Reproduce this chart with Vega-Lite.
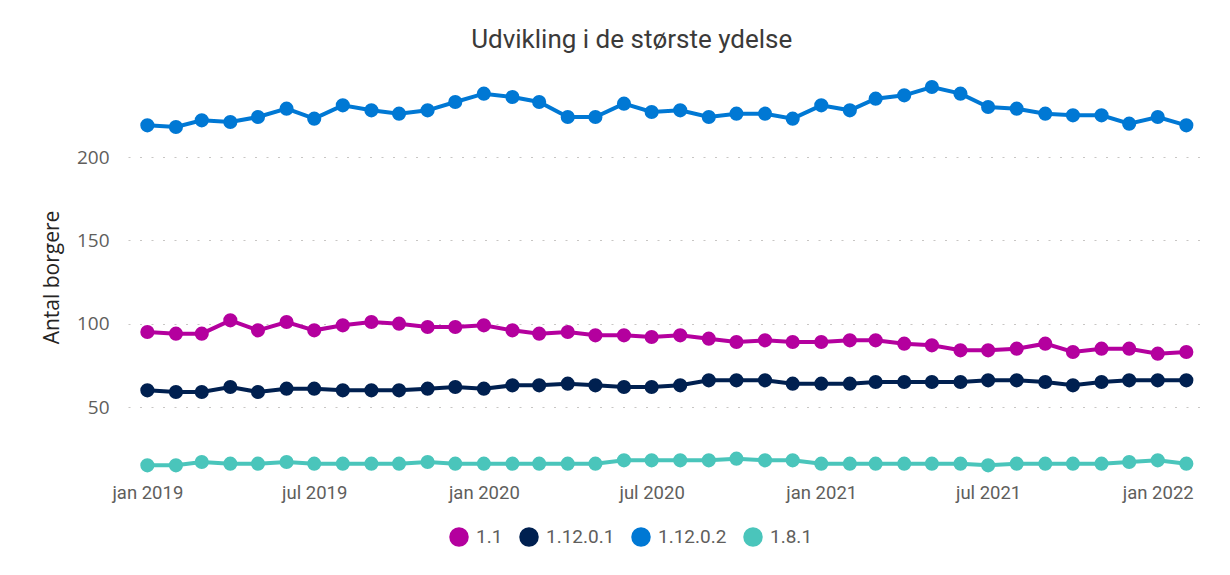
{
  "$schema": "https://vega.github.io/schema/vega-lite/v6.json",
  "width": 1074,
  "height": 390,
  "autosize": {"type": "pad"},
  "padding": {"left": 41, "right": 27, "top": 26, "bottom": 29},
  "background": "white",
  "title": {
    "text": "Udvikling i de største ydelse",
    "fontSize": 26,
    "font": "Roboto",
    "fontWeight": "normal",
    "color": "#3B3A39",
    "anchor": "middle",
    "frame": "bounds",
    "dx": 10,
    "offset": 26
  },
  "config": {
    "view": {"stroke": null},
    "axis": {"domain": false, "ticks": false, "tickSize": 0}
  },
  "data": {
    "values": [
      {"d":"2019-01-01","s":"1.1","v":95},{"d":"2019-02-01","s":"1.1","v":94},{"d":"2019-03-01","s":"1.1","v":94},{"d":"2019-04-01","s":"1.1","v":102},{"d":"2019-05-01","s":"1.1","v":96},{"d":"2019-06-01","s":"1.1","v":101},{"d":"2019-07-01","s":"1.1","v":96},{"d":"2019-08-01","s":"1.1","v":99},{"d":"2019-09-01","s":"1.1","v":101},{"d":"2019-10-01","s":"1.1","v":100},{"d":"2019-11-01","s":"1.1","v":98},{"d":"2019-12-01","s":"1.1","v":98},
      {"d":"2020-01-01","s":"1.1","v":99},{"d":"2020-02-01","s":"1.1","v":96},{"d":"2020-03-01","s":"1.1","v":94},{"d":"2020-04-01","s":"1.1","v":95},{"d":"2020-05-01","s":"1.1","v":93},{"d":"2020-06-01","s":"1.1","v":93},{"d":"2020-07-01","s":"1.1","v":92},{"d":"2020-08-01","s":"1.1","v":93},{"d":"2020-09-01","s":"1.1","v":91},{"d":"2020-10-01","s":"1.1","v":89},{"d":"2020-11-01","s":"1.1","v":90},{"d":"2020-12-01","s":"1.1","v":89},
      {"d":"2021-01-01","s":"1.1","v":89},{"d":"2021-02-01","s":"1.1","v":90},{"d":"2021-03-01","s":"1.1","v":90},{"d":"2021-04-01","s":"1.1","v":88},{"d":"2021-05-01","s":"1.1","v":87},{"d":"2021-06-01","s":"1.1","v":84},{"d":"2021-07-01","s":"1.1","v":84},{"d":"2021-08-01","s":"1.1","v":85},{"d":"2021-09-01","s":"1.1","v":88},{"d":"2021-10-01","s":"1.1","v":83},{"d":"2021-11-01","s":"1.1","v":85},{"d":"2021-12-01","s":"1.1","v":85},
      {"d":"2022-01-01","s":"1.1","v":82},{"d":"2022-02-01","s":"1.1","v":83},

      {"d":"2019-01-01","s":"1.12.0.1","v":60},{"d":"2019-02-01","s":"1.12.0.1","v":59},{"d":"2019-03-01","s":"1.12.0.1","v":59},{"d":"2019-04-01","s":"1.12.0.1","v":62},{"d":"2019-05-01","s":"1.12.0.1","v":59},{"d":"2019-06-01","s":"1.12.0.1","v":61},{"d":"2019-07-01","s":"1.12.0.1","v":61},{"d":"2019-08-01","s":"1.12.0.1","v":60},{"d":"2019-09-01","s":"1.12.0.1","v":60},{"d":"2019-10-01","s":"1.12.0.1","v":60},{"d":"2019-11-01","s":"1.12.0.1","v":61},{"d":"2019-12-01","s":"1.12.0.1","v":62},
      {"d":"2020-01-01","s":"1.12.0.1","v":61},{"d":"2020-02-01","s":"1.12.0.1","v":63},{"d":"2020-03-01","s":"1.12.0.1","v":63},{"d":"2020-04-01","s":"1.12.0.1","v":64},{"d":"2020-05-01","s":"1.12.0.1","v":63},{"d":"2020-06-01","s":"1.12.0.1","v":62},{"d":"2020-07-01","s":"1.12.0.1","v":62},{"d":"2020-08-01","s":"1.12.0.1","v":63},{"d":"2020-09-01","s":"1.12.0.1","v":66},{"d":"2020-10-01","s":"1.12.0.1","v":66},{"d":"2020-11-01","s":"1.12.0.1","v":66},{"d":"2020-12-01","s":"1.12.0.1","v":64},
      {"d":"2021-01-01","s":"1.12.0.1","v":64},{"d":"2021-02-01","s":"1.12.0.1","v":64},{"d":"2021-03-01","s":"1.12.0.1","v":65},{"d":"2021-04-01","s":"1.12.0.1","v":65},{"d":"2021-05-01","s":"1.12.0.1","v":65},{"d":"2021-06-01","s":"1.12.0.1","v":65},{"d":"2021-07-01","s":"1.12.0.1","v":66},{"d":"2021-08-01","s":"1.12.0.1","v":66},{"d":"2021-09-01","s":"1.12.0.1","v":65},{"d":"2021-10-01","s":"1.12.0.1","v":63},{"d":"2021-11-01","s":"1.12.0.1","v":65},{"d":"2021-12-01","s":"1.12.0.1","v":66},
      {"d":"2022-01-01","s":"1.12.0.1","v":66},{"d":"2022-02-01","s":"1.12.0.1","v":66},

      {"d":"2019-01-01","s":"1.12.0.2","v":219},{"d":"2019-02-01","s":"1.12.0.2","v":218},{"d":"2019-03-01","s":"1.12.0.2","v":222},{"d":"2019-04-01","s":"1.12.0.2","v":221},{"d":"2019-05-01","s":"1.12.0.2","v":224},{"d":"2019-06-01","s":"1.12.0.2","v":229},{"d":"2019-07-01","s":"1.12.0.2","v":223},{"d":"2019-08-01","s":"1.12.0.2","v":231},{"d":"2019-09-01","s":"1.12.0.2","v":228},{"d":"2019-10-01","s":"1.12.0.2","v":226},{"d":"2019-11-01","s":"1.12.0.2","v":228},{"d":"2019-12-01","s":"1.12.0.2","v":233},
      {"d":"2020-01-01","s":"1.12.0.2","v":238},{"d":"2020-02-01","s":"1.12.0.2","v":236},{"d":"2020-03-01","s":"1.12.0.2","v":233},{"d":"2020-04-01","s":"1.12.0.2","v":224},{"d":"2020-05-01","s":"1.12.0.2","v":224},{"d":"2020-06-01","s":"1.12.0.2","v":232},{"d":"2020-07-01","s":"1.12.0.2","v":227},{"d":"2020-08-01","s":"1.12.0.2","v":228},{"d":"2020-09-01","s":"1.12.0.2","v":224},{"d":"2020-10-01","s":"1.12.0.2","v":226},{"d":"2020-11-01","s":"1.12.0.2","v":226},{"d":"2020-12-01","s":"1.12.0.2","v":223},
      {"d":"2021-01-01","s":"1.12.0.2","v":231},{"d":"2021-02-01","s":"1.12.0.2","v":228},{"d":"2021-03-01","s":"1.12.0.2","v":235},{"d":"2021-04-01","s":"1.12.0.2","v":237},{"d":"2021-05-01","s":"1.12.0.2","v":242},{"d":"2021-06-01","s":"1.12.0.2","v":238},{"d":"2021-07-01","s":"1.12.0.2","v":230},{"d":"2021-08-01","s":"1.12.0.2","v":229},{"d":"2021-09-01","s":"1.12.0.2","v":226},{"d":"2021-10-01","s":"1.12.0.2","v":225},{"d":"2021-11-01","s":"1.12.0.2","v":225},{"d":"2021-12-01","s":"1.12.0.2","v":220},
      {"d":"2022-01-01","s":"1.12.0.2","v":224},{"d":"2022-02-01","s":"1.12.0.2","v":219},

      {"d":"2019-01-01","s":"1.8.1","v":15},{"d":"2019-02-01","s":"1.8.1","v":15},{"d":"2019-03-01","s":"1.8.1","v":17},{"d":"2019-04-01","s":"1.8.1","v":16},{"d":"2019-05-01","s":"1.8.1","v":16},{"d":"2019-06-01","s":"1.8.1","v":17},{"d":"2019-07-01","s":"1.8.1","v":16},{"d":"2019-08-01","s":"1.8.1","v":16},{"d":"2019-09-01","s":"1.8.1","v":16},{"d":"2019-10-01","s":"1.8.1","v":16},{"d":"2019-11-01","s":"1.8.1","v":17},{"d":"2019-12-01","s":"1.8.1","v":16},
      {"d":"2020-01-01","s":"1.8.1","v":16},{"d":"2020-02-01","s":"1.8.1","v":16},{"d":"2020-03-01","s":"1.8.1","v":16},{"d":"2020-04-01","s":"1.8.1","v":16},{"d":"2020-05-01","s":"1.8.1","v":16},{"d":"2020-06-01","s":"1.8.1","v":18},{"d":"2020-07-01","s":"1.8.1","v":18},{"d":"2020-08-01","s":"1.8.1","v":18},{"d":"2020-09-01","s":"1.8.1","v":18},{"d":"2020-10-01","s":"1.8.1","v":19},{"d":"2020-11-01","s":"1.8.1","v":18},{"d":"2020-12-01","s":"1.8.1","v":18},
      {"d":"2021-01-01","s":"1.8.1","v":16},{"d":"2021-02-01","s":"1.8.1","v":16},{"d":"2021-03-01","s":"1.8.1","v":16},{"d":"2021-04-01","s":"1.8.1","v":16},{"d":"2021-05-01","s":"1.8.1","v":16},{"d":"2021-06-01","s":"1.8.1","v":16},{"d":"2021-07-01","s":"1.8.1","v":15},{"d":"2021-08-01","s":"1.8.1","v":16},{"d":"2021-09-01","s":"1.8.1","v":16},{"d":"2021-10-01","s":"1.8.1","v":16},{"d":"2021-11-01","s":"1.8.1","v":16},{"d":"2021-12-01","s":"1.8.1","v":17},
      {"d":"2022-01-01","s":"1.8.1","v":18},{"d":"2022-02-01","s":"1.8.1","v":16}
    ]
  },
  "encoding": {
    "x": {
      "field": "d",
      "type": "temporal",
      "title": null,
      "scale": {
        "type": "utc",
        "domain": [
          {"year": 2018, "month": 12, "date": 11, "utc": true},
          {"year": 2022, "month": 2, "date": 18, "utc": true}
        ]
      },
      "axis": {
        "values": [
          {"year": 2019, "month": 1, "date": 1, "utc": true},
          {"year": 2019, "month": 7, "date": 1, "utc": true},
          {"year": 2020, "month": 1, "date": 1, "utc": true},
          {"year": 2020, "month": 7, "date": 1, "utc": true},
          {"year": 2021, "month": 1, "date": 1, "utc": true},
          {"year": 2021, "month": 7, "date": 1, "utc": true},
          {"year": 2022, "month": 1, "date": 1, "utc": true}
        ],
        "labelExpr": "(utcmonth(datum.value) == 0 ? 'jan ' : 'jul ') + utcyear(datum.value)",
        "grid": false,
        "labelFont": "Roboto",
        "labelFontSize": 18.5,
        "labelColor": "#605E5C",
        "labelPadding": 11,
        "labelFlush": false
      }
    },
    "y": {
      "field": "v",
      "type": "quantitative",
      "title": "Antal borgere",
      "scale": {"domain": [11, 245], "nice": false, "zero": false},
      "axis": {
        "values": [50, 100, 150, 200],
        "labelFont": "Open Sans",
        "labelFontSize": 19,
        "labelColor": "#605E5C",
        "labelPadding": 19,
        "titleFont": "Open Sans",
        "titleFontSize": 21,
        "titleFontWeight": "normal",
        "titleColor": "#252423",
        "titlePadding": 14,
        "grid": true,
        "gridColor": "#C8C6C4",
        "gridDash": [2, 9.5],
        "gridWidth": 1.2
      }
    },
    "color": {
      "field": "s",
      "type": "nominal",
      "title": null,
      "scale": {
        "domain": ["1.1", "1.12.0.1", "1.12.0.2", "1.8.1"],
        "range": ["#B4009E", "#002050", "#0078D4", "#4AC5BB"]
      },
      "legend": {
        "orient": "none",
        "legendX": 321,
        "legendY": 445,
        "direction": "horizontal",
        "symbolType": "circle",
        "symbolSize": 380,
        "symbolStrokeWidth": 0,
        "labelFont": "Roboto",
        "labelFontSize": 19,
        "labelColor": "#605E5C",
        "columnPadding": 16,
        "labelOffset": 7,
        "encode": {
          "symbols": {
            "update": {
              "fill": {"scale": "color", "field": "value"},
              "opacity": {"value": 1}
            }
          }
        }
      }
    }
  },
  "layer": [
    {"mark": {"type": "line", "strokeWidth": 4}},
    {"mark": {"type": "point", "filled": true, "size": 200, "opacity": 1}}
  ]
}
